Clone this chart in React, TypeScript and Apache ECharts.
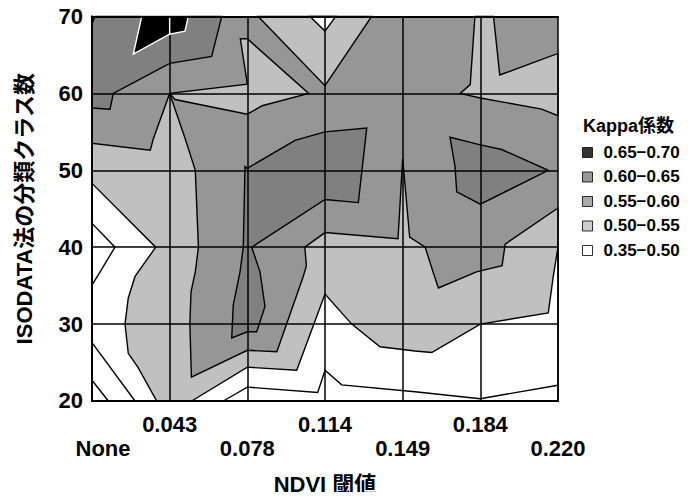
import React, { useEffect, useRef } from 'react';
import * as echarts from 'echarts';

// NDVI thresholds on the x axis (equally spaced, index 0..6)
const ndviLabels = ['None', '0.043', '0.078', '0.114', '0.149', '0.184', '0.220'];
// ISODATA class-count axis
const classMin = 20;
const classMax = 70;
const classStep = 10;
// legend
const kappaTitle = 'Kappa係数';
const kappaRanges = ['0.65−0.70', '0.60−0.65', '0.55−0.60', '0.50−0.55', '0.35−0.50'];

// Contour regions: [NDVI index, class count]
// Kappa 0.50–0.55 (drawn over the 0.55–0.60 base)
const kappa050Main = [
  [0, 20], [6, 20], [6, 45.1], [5.32, 40.4], [5.28, 37.6], [4.95, 36.8], [4.46, 34.7],
  [4.39, 36.8], [4.29, 40.0], [4.09, 41.3], [4.0, 51.5], [3.94, 41.1], [3.0, 41.9],
  [2.74, 40.0], [2.76, 37.6], [2.72, 36.2], [2.38, 26.4], [2.0, 26.6], [1.28, 23.1],
  [1.26, 30.0], [1.275, 34.2], [1.33, 36.8], [1.37, 40.0], [1.33, 50.0], [1.2, 54.1],
  [1.0, 60.0], [1.07, 59.2], [2.0, 57.3], [2.19, 58.4], [2.79, 60.0], [2.0, 67.1],
  [1.91, 67.1], [2.0, 61.2], [1.0, 60.0], [0.79, 54.1], [0.75, 52.6], [0, 53.5],
];
const kappa050TopV = [[2.14, 70], [3.0, 61.0], [3.6, 70]];
const kappa050TopRight = [
  [4.93, 70], [4.87, 61.15], [4.74, 60.0], [5.0, 59.4], [5.79, 57.95], [6, 57.1],
  [6, 65.2], [5.25, 62.4], [5.17, 70],
];
// Kappa 0.35–0.50
const kappaLowLeft = [
  [0, 48.3], [0.82, 40.0], [0.554, 36.2], [0.467, 33.4], [0.425, 30.0], [0.467, 26.2],
  [0.59, 24.4], [0.833, 20], [0, 20],
];
const kappaLowBottom = [
  [1.284, 20], [2.0, 24.4], [2.636, 24.0], [3.0, 33.9], [3.344, 30.0], [3.708, 27.05],
  [4.159, 26.5], [4.374, 26.3], [5.0, 30.0], [5.875, 31.45], [5.939, 36.2], [6, 40], [6, 20],
];
const kappaLowTop = [[2.807, 70], [3.0, 68.1], [3.138, 70]];
// inner contour lines (0.45, 0.40) inside the lowest band
const kappa045LeftA = [[0, 43.1], [0.296, 40.0], [0.081, 36.4], [0, 35.1]];
const kappa045LeftB = [[0, 27.6], [0.554, 20]];
const kappa040Left = [[0, 22.7], [0.21, 20]];
const kappa045Bottom = [
  [1.69, 20], [2.0, 21.8], [2.906, 21.1], [3.0, 24.0], [3.215, 22.1], [4.159, 21.2],
  [5.0, 20.3], [6, 22.05],
];
// Kappa 0.60–0.65
const kappa060TopLeft = [
  [0, 69.06], [0.039, 70], [1.67, 70], [1.541, 64.8], [1.0, 63.9], [0.274, 60.0],
  [0.232, 57.95], [0, 58.1],
];
const kappa060Center = [
  [1.97, 50.5], [2.0, 50.26], [2.614, 53.9], [3.0, 55.0], [3.537, 55.5], [3.515, 53.5],
  [3.429, 45.8], [3.0, 46.2], [2.056, 40.0], [2.163, 36.8], [2.227, 32.3], [2.121, 29.0],
  [2.0, 29.0], [1.799, 28.2], [1.819, 32.5], [1.906, 36.8], [1.948, 40.0],
];
const kappa060Right = [
  [4.609, 54.3], [5.0, 53.3], [5.275, 52.7], [5.875, 50.0], [5.0, 45.6], [4.696, 47.2],
  [4.674, 50.5],
];
// Kappa 0.65–0.70
const kappa065A = [[0.64, 70], [1.0, 70], [1.0, 67.7], [0.532, 65.1]];
const kappa065B = [[1.0, 70], [1.24, 70], [1.197, 68.1], [1.0, 67.7]];

// fills per legend entry (same order as kappaRanges)
const FILL = ['#000000', '#808080', '#969696', '#c0c0c0', '#ffffff'];

type Layer = { level: number; pts: number[][]; closed: boolean };

const layers: Layer[] = [
  { level: 3, pts: kappa050Main, closed: true },
  { level: 3, pts: kappa050TopV, closed: true },
  { level: 3, pts: kappa050TopRight, closed: true },
  { level: 4, pts: kappaLowLeft, closed: true },
  { level: 4, pts: kappaLowBottom, closed: true },
  { level: 4, pts: kappaLowTop, closed: true },
  { level: 4, pts: kappa045LeftA, closed: false },
  { level: 4, pts: kappa045LeftB, closed: false },
  { level: 4, pts: kappa040Left, closed: false },
  { level: 4, pts: kappa045Bottom, closed: false },
  { level: 1, pts: kappa060TopLeft, closed: true },
  { level: 1, pts: kappa060Center, closed: true },
  { level: 1, pts: kappa060Right, closed: true },
];
const topLayers: Layer[] = [
  { level: 0, pts: kappa065A, closed: true },
  { level: 0, pts: kappa065B, closed: true },
];

const FONT = '"Liberation Sans", Arial, "Noto Sans CJK JP", sans-serif';

const makeRender = (list: Layer[], stroke: string) => (params: any, api: any) => {
  const L = list[params.dataIndex];
  const points = L.pts.map((p) => api.coord(p));
  return {
    type: L.closed ? 'polygon' : 'polyline',
    shape: { points },
    style: {
      fill: L.closed ? FILL[L.level] : 'none',
      stroke,
      lineWidth: 1.4,
      lineJoin: 'miter',
    },
  };
};

export default function App() {
  const ref = useRef<HTMLDivElement>(null);
  useEffect(() => {
    if (!ref.current) return;
    const chart = echarts.init(ref.current, null, { renderer: 'svg' });
    const tickFont = { fontFamily: FONT, fontWeight: 'bold' as const, fontSize: 22, color: '#000' };
    const hiddenAxis = {
      axisTick: { show: false },
      splitLine: { show: false },
    };
    chart.setOption({
      animation: false,
      grid: {
        left: 92,
        right: 134,
        top: 16.5,
        bottom: 95.5,
        show: true,
        backgroundColor: FILL[2],
        borderWidth: 0,
      },
      xAxis: [
        {
          type: 'value', min: 0, max: ndviLabels.length - 1, interval: 1, position: 'bottom', z: 3,
          axisLine: { show: true, lineStyle: { color: '#000', width: 2 } },
          axisTick: { show: false },
          splitLine: { show: true, lineStyle: { color: '#000', width: 1.5 } },
          axisLabel: {
            ...tickFont, margin: 12.5,
            formatter: (v: number) => (Math.round(v) % 2 === 1 ? ndviLabels[Math.round(v)] : ''),
          },
          name: 'NDVI 閾値', nameLocation: 'middle', nameGap: 72,
          nameTextStyle: { fontFamily: FONT, fontWeight: 'bold', fontSize: 22, color: '#000' },
        },
        {
          type: 'value', min: 0, max: ndviLabels.length - 1, interval: 1, position: 'bottom', z: 3,
          ...hiddenAxis, axisLine: { show: false },
          axisLabel: {
            ...tickFont, margin: 36,
            formatter: (v: number) => {
              const i = Math.round(v);
              if (i % 2 === 1) return '';
              return i === 0 ? '{n|' + ndviLabels[i] + '}' : ndviLabels[i];
            },
            rich: { n: { ...tickFont, padding: [0, 0, 0, 22] } },
          },
        },
        {
          type: 'value', min: 0, max: ndviLabels.length - 1, position: 'top', z: 10,
          ...hiddenAxis, axisLabel: { show: false },
          axisLine: { show: true, lineStyle: { color: '#000', width: 2 } },
        },
      ],
      yAxis: [
        {
          type: 'value', min: classMin, max: classMax, interval: classStep, position: 'left', z: 3,
          axisLine: { show: true, lineStyle: { color: '#000', width: 2 } },
          axisTick: { show: false },
          splitLine: { show: true, lineStyle: { color: '#000', width: 1.5 } },
          axisLabel: { ...tickFont, margin: 9 },
          name: 'ISODATA法の分類クラス数', nameLocation: 'middle', nameGap: 57, nameRotate: 90,
          nameTextStyle: { fontFamily: FONT, fontWeight: 'bold', fontSize: 22, color: '#000' },
        },
        {
          type: 'value', min: classMin, max: classMax, position: 'right', z: 10,
          ...hiddenAxis, axisLabel: { show: false },
          axisLine: { show: true, lineStyle: { color: '#000', width: 2 } },
        },
      ],
      legend: {
        orient: 'vertical',
        left: 577,
        top: 139,
        icon: 'rect',
        itemWidth: 10,
        itemHeight: 10,
        itemGap: 7.5,
        selectedMode: false,
        itemStyle: { borderColor: '#000', borderWidth: 1 },
        textStyle: { fontFamily: FONT, fontWeight: 'bold', fontSize: 17, color: '#000', padding: [0, 0, 0, 6] },
        data: kappaRanges,
      },
      graphic: [
        {
          type: 'text', left: 583, top: 117,
          style: { text: kappaTitle, font: 'bold 18px ' + FONT, fill: '#000' },
        },
      ],
      series: [
        {
          type: 'custom', coordinateSystem: 'cartesian2d', xAxisIndex: 0, yAxisIndex: 0, z: 1, silent: true,
          renderItem: makeRender(layers, '#000'),
          data: layers.map((l) => l.pts[0]),
        },
        {
          type: 'custom', coordinateSystem: 'cartesian2d', xAxisIndex: 0, yAxisIndex: 0, z: 4, silent: true,
          renderItem: makeRender(topLayers, '#fff'),
          data: topLayers.map((l) => l.pts[0]),
        },
        ...kappaRanges.map((n, i) => ({
          type: 'scatter', name: n, data: [], itemStyle: { color: FILL[i] },
        })),
      ],
    });
    return () => chart.dispose();
  }, []);
  return <div ref={ref} style={{ width: 692, height: 500, margin: -8 }} />;
}
